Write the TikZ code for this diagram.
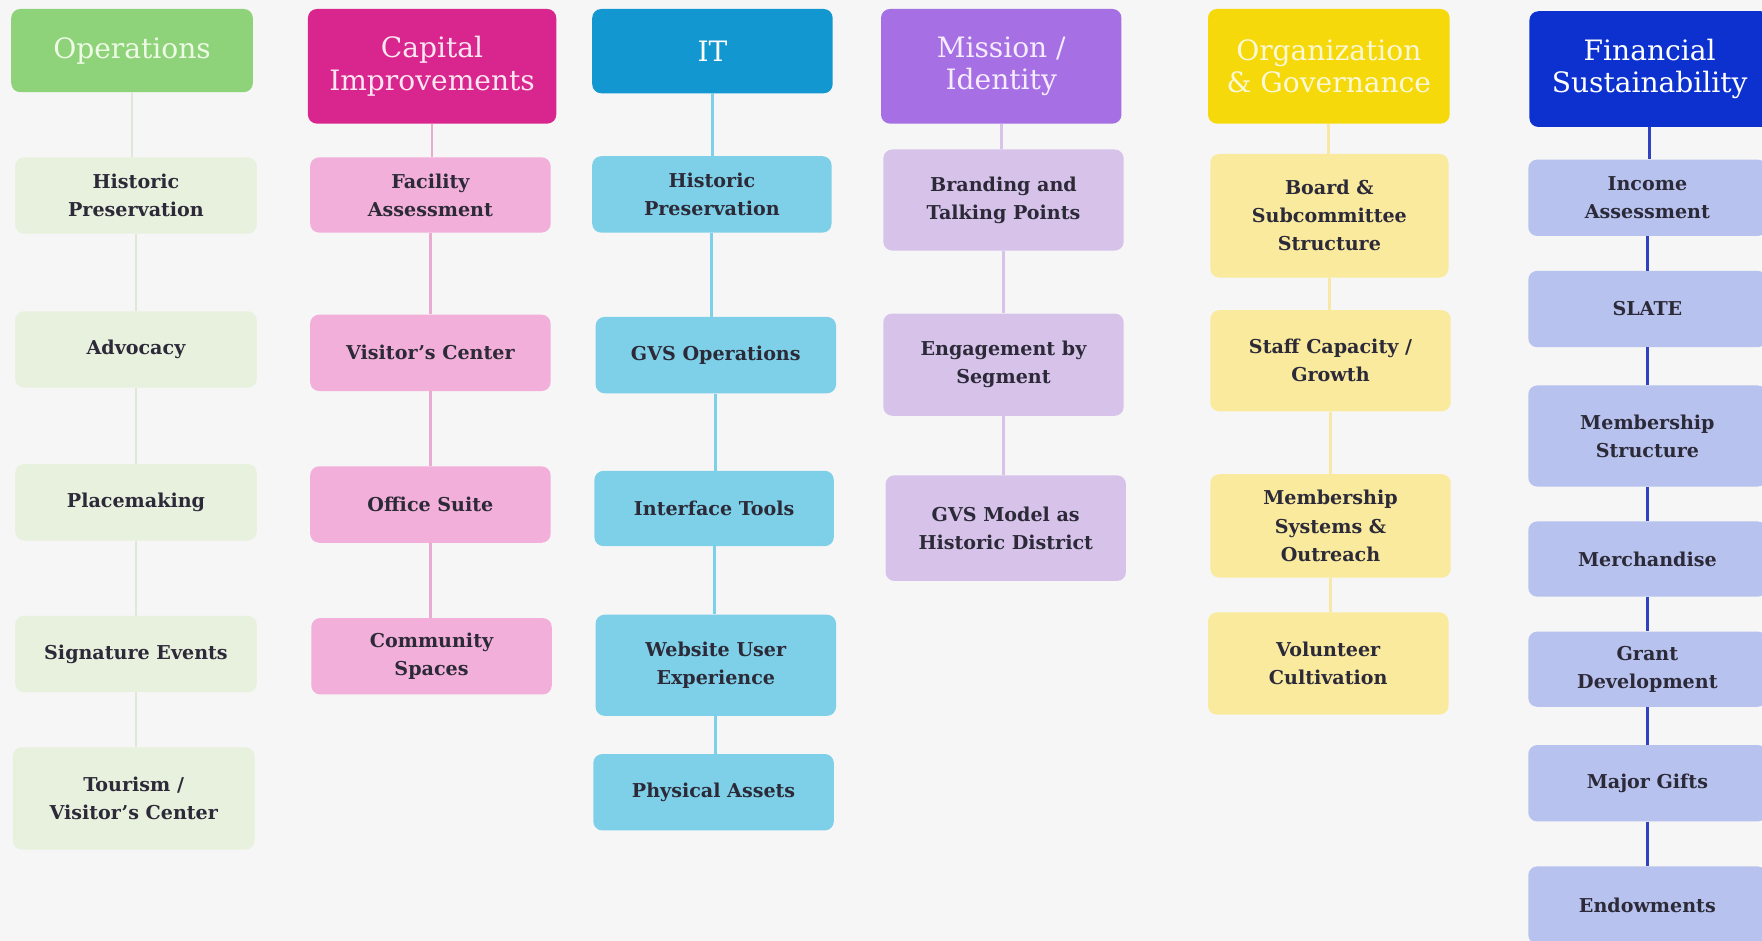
\documentclass[tikz,border=0pt]{standalone}
\usepackage{fontspec}
\setmainfont{DejaVu Serif}
\definecolor{bg}{HTML}{F6F6F6}
\definecolor{txt}{HTML}{2C2A38}
\definecolor{opsH}{HTML}{8ED37A}\definecolor{opsT}{HTML}{EEFAE6}\definecolor{opsC}{HTML}{E7F1DE}\definecolor{opsL}{HTML}{DFE7D6}
\definecolor{capH}{HTML}{D9268E}\definecolor{capT}{HTML}{FBE6F2}\definecolor{capC}{HTML}{F2AFD9}\definecolor{capL}{HTML}{EBAACF}
\definecolor{itH}{HTML}{1397D0}\definecolor{itT}{HTML}{FFFFFF}\definecolor{itC}{HTML}{7DD0E7}\definecolor{itL}{HTML}{7DD0E7}
\definecolor{misH}{HTML}{A66FE3}\definecolor{misT}{HTML}{F5ECFF}\definecolor{misC}{HTML}{D7C3EA}\definecolor{misL}{HTML}{D7C3EA}
\definecolor{orgH}{HTML}{F5D90A}\definecolor{orgT}{HTML}{FDF8D8}\definecolor{orgC}{HTML}{F9EA9E}\definecolor{orgL}{HTML}{F7E8A8}
\definecolor{finH}{HTML}{0C31CF}\definecolor{finT}{HTML}{FFFFFF}\definecolor{finC}{HTML}{B7C2EE}\definecolor{finL}{HTML}{3142C0}
\tikzset{
  base/.style={rounded corners=8pt, align=center, inner sep=2pt},
  head/.style={base, fill=#1H, text=#1T, font=\fontsize{25}{29}\selectfont},
  item/.style={base, fill=#1C, text=txt, font=\fontsize{17}{25}\selectfont\bfseries},
  wh/.style args={#1x#2}{minimum width=#1pt, minimum height=#2pt},
  link/.style={draw=#1L, line width=2.5pt},
}
\newcommand\joinup[3]{\draw[link=#1] (#2.south) -- (#2.south |- #3.north);}
\begin{document}
\begin{tikzpicture}[x=1pt,y=-1pt]
\fill[bg] (0,0) rectangle (1568,837);
\useasboundingbox (0,0) rectangle (1568,837);
\begin{scope}
\clip (0,0) rectangle (1568,837);
% Operations
\node[head=ops, wh=215x74] (opsh) at (117.5,45) {Operations};
\node[item=ops, wh=215x68] (ops1) at (121,174) {Historic\\Preservation};
\node[item=ops, wh=215x68] (ops2) at (121,311) {Advocacy};
\node[item=ops, wh=215x68] (ops3) at (121,447) {Placemaking};
\node[item=ops, wh=215x68] (ops4) at (121,582) {Signature Events};
\node[item=ops, wh=215x91] (ops5) at (119,710.5) {Tourism /\\Visitor’s Center};
% Capital
\node[head=cap, wh=221x102] (caph) at (384.5,59) {Capital\\Improvements};
\node[item=cap, wh=214x67] (cap1) at (383,173.5) {Facility\\Assessment};
\node[item=cap, wh=214x68] (cap2) at (383,314) {Visitor’s Center};
\node[item=cap, wh=214x68] (cap3) at (383,449) {Office Suite};
\node[item=cap, wh=214x68] (cap4) at (384,584) {Community\\Spaces};
% IT
\node[head=it, wh=214x75] (ith) at (634,45.5) {IT};
\node[item=it, wh=213x68] (it1) at (633.5,173) {Historic\\Preservation};
\node[item=it, wh=214x68] (it2) at (637,316) {GVS Operations};
\node[item=it, wh=213x67] (it3) at (635.5,452.5) {Interface Tools};
\node[item=it, wh=214x90] (it4) at (637,592) {Website User\\Experience};
\node[item=it, wh=214x68] (it5) at (635,705) {Physical Assets};
% Mission
\node[head=mis, wh=214x102] (mish) at (891,59) {Mission /\\Identity};
\node[item=mis, wh=214x90] (mis1) at (893,178) {Branding and\\Talking Points};
\node[item=mis, wh=214x91] (mis2) at (893,324.5) {Engagement by\\Segment};
\node[item=mis, wh=214x94] (mis3) at (895,470) {GVS Model as\\Historic District};
% Organization
\node[head=org, wh=215x102] (orgh) at (1182.5,59) {Organization\\\& Governance};
\node[item=org, wh=212x110] (org1) at (1183,192) {Board \&\\Subcommittee\\Structure};
\node[item=org, wh=214x90] (org2) at (1184,321) {Staff Capacity /\\Growth};
\node[item=org, wh=214x92] (org3) at (1184,468) {Membership\\Systems \&\\Outreach};
\node[item=org, wh=214x91] (org4) at (1182,590.5) {Volunteer\\Cultivation};
% Financial
\node[head=fin, wh=214x103] (finh) at (1468,61.5) {Financial\\Sustainability};
\node[item=fin, wh=212x68] (fin1) at (1466,176) {Income\\Assessment};
\node[item=fin, wh=212x68] (fin2) at (1466,275) {SLATE};
\node[item=fin, wh=212x90] (fin3) at (1466,388) {Membership\\Structure};
\node[item=fin, wh=212x67] (fin4) at (1466,497.5) {Merchandise};
\node[item=fin, wh=212x67] (fin5) at (1466,595.5) {Grant\\Development};
\node[item=fin, wh=212x68] (fin6) at (1466,697) {Major Gifts};
\node[item=fin, wh=212x69] (fin7) at (1466,805.5) {Endowments};
% connectors
\joinup{ops}{opsh}{ops1}\joinup{ops}{ops1}{ops2}\joinup{ops}{ops2}{ops3}\joinup{ops}{ops3}{ops4}\joinup{ops}{ops4}{ops5}
\joinup{cap}{caph}{cap1}\joinup{cap}{cap1}{cap2}\joinup{cap}{cap2}{cap3}\joinup{cap}{cap3}{cap4}
\joinup{it}{ith}{it1}\joinup{it}{it1}{it2}\joinup{it}{it2}{it3}\joinup{it}{it3}{it4}\joinup{it}{it4}{it5}
\joinup{mis}{mish}{mis1}\joinup{mis}{mis1}{mis2}\joinup{mis}{mis2}{mis3}
\joinup{org}{orgh}{org1}\joinup{org}{org1}{org2}\joinup{org}{org2}{org3}\joinup{org}{org3}{org4}
\joinup{fin}{finh}{fin1}\joinup{fin}{fin1}{fin2}\joinup{fin}{fin2}{fin3}\joinup{fin}{fin3}{fin4}\joinup{fin}{fin4}{fin5}\joinup{fin}{fin5}{fin6}\joinup{fin}{fin6}{fin7}
\end{scope}
\end{tikzpicture}
\end{document}
